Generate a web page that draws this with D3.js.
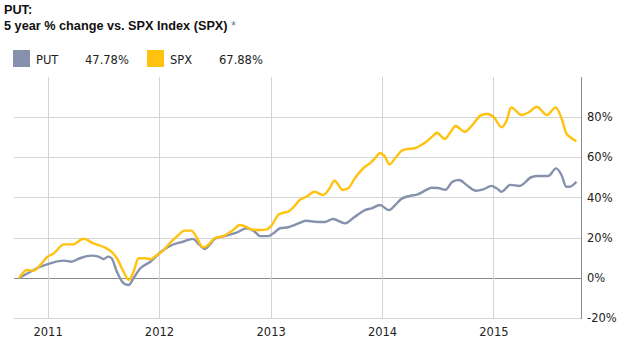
<!DOCTYPE html>
<html>
<head>
<meta charset="utf-8">
<script src="https://cdn.jsdelivr.net/npm/d3@7"></script>
<style>
  body { margin: 0; background: #fff; }
  svg { display: block; }
</style>
</head>
<body>
<div id="chart"></div>
<script>
// series values (date, % change)
var putDates = ["2010-09-30","2010-11-06","2010-12-08","2011-01-10","2011-02-24","2011-03-20","2011-04-17","2011-05-25","2011-06-17","2011-07-03","2011-07-19","2011-07-30","2011-08-16","2011-09-07","2011-09-24","2011-10-10","2011-11-01","2011-12-04","2012-01-12","2012-02-06","2012-03-19","2012-04-21","2012-05-13","2012-05-29","2012-06-15","2012-07-01","2012-08-09","2012-09-11","2012-10-14","2012-11-10","2012-11-27","2012-12-24","2013-01-10","2013-02-01","2013-02-28","2013-03-20","2013-04-06","2013-04-28","2013-05-25","2013-06-27","2013-07-24","2013-09-02","2013-10-04","2013-11-06","2013-11-28","2013-12-25","2014-01-24","2014-02-13","2014-03-05","2014-04-02","2014-04-28","2014-05-26","2014-06-12","2014-07-03","2014-07-28","2014-08-20","2014-09-11","2014-10-05","2014-11-05","2014-11-29","2014-12-26","2015-01-12","2015-01-28","2015-02-25","2015-03-28","2015-05-05","2015-05-27","2015-06-29","2015-07-26","2015-08-12","2015-08-28","2015-09-08","2015-09-30"];
var putValues = [0,3.1,5.6,7.3,8.6,8.1,9.8,11.1,10.6,9.4,10.6,9.8,3.1,-2.6,-3.5,0,4.8,8.1,13.5,15.9,18,19.4,16.4,14.4,16.4,19.4,21,22.5,24.7,23,20.8,20.8,22.2,24.7,25.2,26.3,27.3,28.4,27.9,27.8,29.3,27.1,30.4,33.7,34.6,36.2,33.7,36.2,39.2,40.8,41.5,43.7,44.8,44.7,43.8,47.8,48.6,46.2,43.3,44,45.7,44.5,42.8,46.2,45.7,50,50.6,50.6,54.4,51.1,45.3,45.3,47.78];

var spxDates = ["2010-09-30","2010-10-25","2010-11-16","2010-12-03","2010-12-30","2011-01-21","2011-02-24","2011-03-26","2011-04-28","2011-05-31","2011-07-13","2011-07-30","2011-08-16","2011-09-07","2011-09-24","2011-10-10","2011-10-26","2011-11-18","2011-12-04","2011-12-25","2012-01-17","2012-01-26","2012-02-28","2012-03-25","2012-04-16","2012-05-02","2012-05-24","2012-06-10","2012-07-01","2012-07-29","2012-08-31","2012-09-22","2012-10-14","2012-10-30","2012-11-27","2012-12-19","2013-01-05","2013-01-26","2013-02-12","2013-02-28","2013-03-20","2013-04-06","2013-04-28","2013-05-25","2013-06-22","2013-07-13","2013-07-29","2013-08-26","2013-09-12","2013-10-04","2013-11-06","2013-11-22","2013-12-09","2013-12-25","2014-01-11","2014-01-25","2014-02-13","2014-03-05","2014-03-21","2014-04-18","2014-05-04","2014-05-26","2014-06-17","2014-06-30","2014-07-25","2014-08-11","2014-08-30","2014-09-29","2014-10-21","2014-11-23","2014-12-14","2015-01-01","2015-01-28","2015-02-14","2015-02-28","2015-04-03","2015-04-30","2015-05-23","2015-06-25","2015-07-24","2015-08-12","2015-08-28","2015-09-08","2015-09-30"];
var spxValues = [0,4,3.6,5.6,10.3,12.2,16.7,16.7,19.5,17.2,14.7,13,9.8,3.1,-1,3.1,9.8,9.8,9.3,11.4,13.9,15.5,20.5,23.5,23.5,20.5,15.2,16.4,19.7,20.8,23.8,26.3,25.4,24.1,23.8,24.1,26.3,31.3,32.4,32.9,35.7,38.7,40.3,42.8,41.2,44.5,48.3,43.7,44.5,49.5,55.2,56.9,59.4,61.9,60.2,56.4,59.4,63,63.9,64.4,65.5,67.6,70.5,72.1,69,71.8,75.4,72.6,75.4,80.9,81.4,80,74.8,78.4,84.7,80.9,82.5,85,80.9,84.7,79.3,71.8,70.1,67.88];

var seriesNames = ["PUT", "SPX"];
var seriesTotals = ["47.78%", "67.88%"];
var seriesColors = ["#8591ad", "#ffc20e"];
var yTicks = [-20, 0, 20, 40, 60, 80];
var xTickYears = [2011, 2012, 2013, 2014, 2015];

var width = 626, height = 350;
var parse = d3.timeParse("%Y-%m-%d");

var svg = d3.select("#chart").append("svg")
    .attr("width", width)
    .attr("height", height)
    .style("font-family", "'DejaVu Sans', Verdana, sans-serif");

// title
svg.append("text")
    .attr("x", 4).attr("y", 14)
    .attr("font-family", "'Liberation Sans', Arial, sans-serif")
    .attr("font-weight", "bold").attr("font-size", 12.7)
    .attr("fill", "#111")
    .text("PUT:");
var t2 = svg.append("text")
    .attr("x", 4).attr("y", 30)
    .attr("font-family", "'Liberation Sans', Arial, sans-serif")
    .attr("font-weight", "bold").attr("font-size", 12.7)
    .attr("fill", "#111");
t2.append("tspan").text("5 year % change vs. SPX Index (SPX) ");
t2.append("tspan").attr("fill", "#5b7fa6").attr("font-weight", "normal").text("*");

// legend
var legendX = [13, 147];
seriesNames.forEach(function (name, i) {
    var g = svg.append("g").attr("transform", "translate(" + legendX[i] + ",50)");
    g.append("rect").attr("width", 17).attr("height", 17).attr("fill", seriesColors[i]);
    g.append("text").attr("x", 23).attr("y", 14).attr("font-size", 11.5).attr("fill", "#222").text(name);
    g.append("text").attr("x", 72).attr("y", 14).attr("font-size", 11.5).attr("fill", "#222").text(seriesTotals[i]);
});

// scales
var xScale = d3.scaleTime()
    .domain([parse("2010-09-13"), parse("2015-10-15")])
    .range([14, 581]);
var yScale = d3.scaleLinear()
    .domain([-20, 100])
    .range([318.3, 76.5]);

// grid
var grid = svg.append("g");
grid.selectAll(".hgrid")
    .data(yTicks)
    .enter()
    .append("line")
    .attr("x1", 14).attr("x2", 581)
    .attr("y1", d => Math.round(yScale(d)) + 0.5)
    .attr("y2", d => Math.round(yScale(d)) + 0.5)
    .attr("stroke", d => d === 0 ? "#8a8a8a" : "#d4d4d4")
    .attr("stroke-width", 1);
grid.selectAll(".vgrid")
    .data(xTickYears)
    .enter()
    .append("line")
    .attr("x1", d => Math.round(xScale(new Date(d, 0, 1))) + 0.5)
    .attr("x2", d => Math.round(xScale(new Date(d, 0, 1))) + 0.5)
    .attr("y1", 77).attr("y2", 318)
    .attr("stroke", "#d4d4d4");

// right axis line
svg.append("line")
    .attr("x1", 581.5).attr("x2", 581.5)
    .attr("y1", 77).attr("y2", 319)
    .attr("stroke", "#8a8a8a");

// axis labels
var yAxis = d3.axisRight(yScale).tickValues(yTicks).tickSize(0).tickPadding(6)
    .tickFormat(d => d + "%");
svg.append("g")
    .attr("transform", "translate(581,0)")
    .call(yAxis)
    .call(g => g.select(".domain").remove())
    .selectAll("text")
    .attr("font-size", 11.5)
    .attr("font-family", "'DejaVu Sans', Verdana, sans-serif")
    .attr("fill", "#222");

var xAxis = d3.axisBottom(xScale)
    .tickValues(xTickYears.map(d => new Date(d, 0, 1)))
    .tickSize(0).tickPadding(10)
    .tickFormat(d3.timeFormat("%Y"));
svg.append("g")
    .attr("transform", "translate(0,318)")
    .call(xAxis)
    .call(g => g.select(".domain").remove())
    .selectAll("text")
    .attr("font-size", 11.5)
    .attr("font-family", "'DejaVu Sans', Verdana, sans-serif")
    .attr("fill", "#222");

// lines
var line = d3.line()
    .x(d => xScale(d.date))
    .y(d => yScale(d.value))
    .curve(d3.curveMonotoneX);

var putData = putDates.map((d, i) => ({ date: parse(d), value: putValues[i] }));
var spxData = spxDates.map((d, i) => ({ date: parse(d), value: spxValues[i] }));

[putData, spxData].forEach(function (data, i) {
    svg.append("path")
        .datum(data)
        .attr("d", line)
        .attr("fill", "none")
        .attr("stroke", seriesColors[i])
        .attr("stroke-width", 2.4)
        .attr("stroke-linejoin", "round");
});
</script>
</body>
</html>
